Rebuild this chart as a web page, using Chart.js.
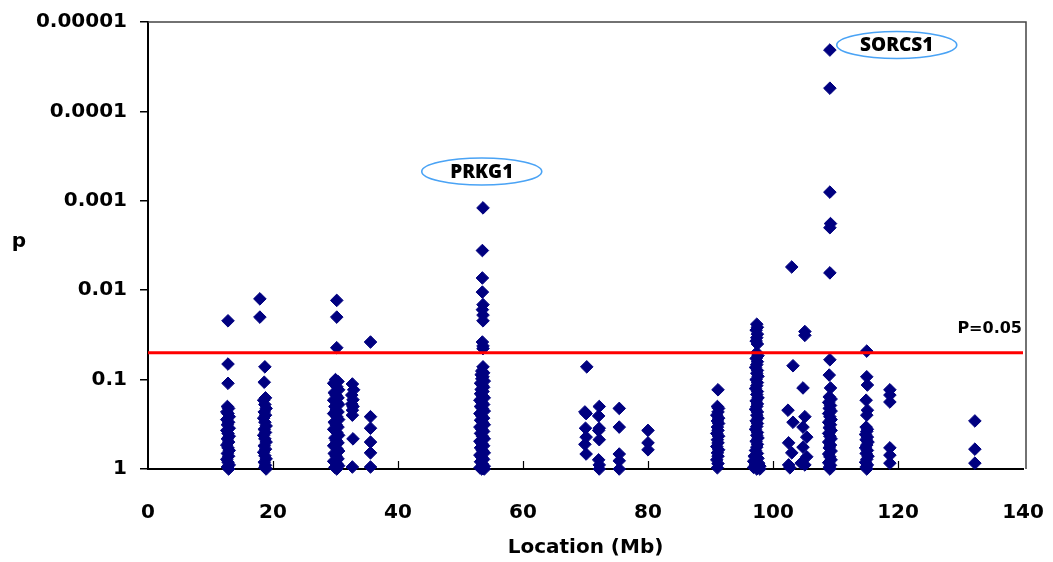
<!DOCTYPE html>
<html>
<head>
<meta charset="utf-8">
<script src="https://cdn.jsdelivr.net/npm/chart.js@4/dist/chart.umd.min.js"></script>
<style>
    html, body { margin: 0; padding: 0; background: #fff; }
    #wrap { width: 1053px; height: 562px; }
</style>
</head>
<body>
<div id="wrap"><canvas id="chart" width="1053" height="562"></canvas></div>
<script>
// --- Data: [location (Mb), p] per locus ---

const region13 = [
    [12.8, 0.022], [12.8, 0.067], [12.8, 0.11],
    [12.7, 0.20], [12.9, 0.21], [12.6, 0.23], [12.8, 0.24], [13.0, 0.26], [12.6, 0.28],
    [12.9, 0.30], [12.7, 0.32], [13.0, 0.35], [12.6, 0.37], [12.8, 0.40], [13.0, 0.43],
    [12.7, 0.46], [12.9, 0.50], [12.6, 0.54], [12.8, 0.58], [13.0, 0.62], [12.7, 0.67],
    [12.9, 0.72], [12.6, 0.78], [12.8, 0.84], [13.0, 0.90], [12.7, 0.95], [12.9, 1.0]
];
const region18 = [
    [17.9, 0.0125], [17.9, 0.020],
    [18.7, 0.072], [18.6, 0.107], [18.8, 0.16], [18.5, 0.17], [18.7, 0.19], [18.9, 0.21],
    [18.6, 0.23], [18.8, 0.25], [18.5, 0.27], [18.7, 0.30], [18.9, 0.33], [18.6, 0.36],
    [18.8, 0.39], [18.5, 0.42], [18.7, 0.46], [18.9, 0.50], [18.6, 0.55], [18.8, 0.60],
    [18.5, 0.65], [18.7, 0.71], [18.9, 0.77], [18.6, 0.84], [18.8, 0.91], [18.7, 0.96], [18.9, 1.0]
];
const region30 = [
    [30.2, 0.013], [30.2, 0.020], [30.2, 0.044],
    [30.0, 0.10], [30.4, 0.105], [29.7, 0.11], [30.2, 0.12], [30.5, 0.13], [29.8, 0.14],
    [30.1, 0.15], [30.4, 0.16], [29.7, 0.17], [30.2, 0.18], [30.5, 0.19], [29.9, 0.20],
    [30.1, 0.22], [30.4, 0.23], [29.7, 0.24], [30.2, 0.26], [30.5, 0.28], [29.8, 0.30],
    [30.1, 0.32], [30.4, 0.34], [29.7, 0.36], [30.2, 0.39], [30.5, 0.42], [29.9, 0.45],
    [30.1, 0.48], [30.4, 0.51], [29.7, 0.55], [30.2, 0.59], [30.5, 0.63], [29.8, 0.67],
    [30.1, 0.72], [30.4, 0.77], [29.7, 0.82], [30.2, 0.87], [30.5, 0.92], [29.9, 0.96], [30.2, 1.0]
];
const region33 = [
    [32.7, 0.112], [32.9, 0.13], [32.6, 0.149], [32.8, 0.168], [32.6, 0.188], [32.8, 0.20],
    [32.7, 0.22], [32.7, 0.25], [32.8, 0.46], [32.7, 0.95]
];
const region36 = [
    [35.6, 0.038], [35.6, 0.26], [35.6, 0.35], [35.6, 0.50], [35.6, 0.66], [35.6, 0.95]
];
const region53 = [
    [53.6, 0.0012], [53.5, 0.0036], [53.5, 0.0073], [53.5, 0.0105], [53.6, 0.0145],
    [53.5, 0.0165], [53.6, 0.019], [53.6, 0.022], [53.5, 0.038], [53.6, 0.042], [53.6, 0.045],
    [53.6, 0.072],
    [53.4, 0.08], [53.7, 0.084], [53.3, 0.088], [53.6, 0.093], [53.4, 0.098], [53.8, 0.104],
    [53.2, 0.11], [53.5, 0.116], [53.7, 0.122], [53.3, 0.129], [53.6, 0.136], [53.2, 0.144],
    [53.5, 0.152], [53.8, 0.16], [53.1, 0.17], [53.4, 0.18], [53.7, 0.19], [53.2, 0.20],
    [53.5, 0.21], [53.8, 0.225], [53.1, 0.24], [53.4, 0.255], [53.7, 0.27], [53.2, 0.285],
    [53.5, 0.30], [53.8, 0.32], [53.1, 0.34], [53.4, 0.36], [53.7, 0.38], [53.2, 0.40],
    [53.5, 0.43], [53.8, 0.46], [53.1, 0.49], [53.4, 0.52], [53.7, 0.55], [53.2, 0.58],
    [53.5, 0.62], [53.8, 0.66], [53.1, 0.70], [53.4, 0.74], [53.7, 0.78], [53.2, 0.83],
    [53.5, 0.88], [53.8, 0.93], [53.1, 0.97], [53.4, 1.0], [53.8, 1.0]
];
const region70 = [
    [70.2, 0.072], [69.9, 0.23], [70.1, 0.24], [70.0, 0.35], [70.1, 0.44], [69.9, 0.53], [70.1, 0.68]
];
const region72 = [
    [72.2, 0.20], [72.1, 0.255], [72.2, 0.35], [72.1, 0.37], [72.2, 0.47], [72.1, 0.79],
    [72.2, 0.90], [72.2, 1.0]
];
const region75 = [[75.4, 0.21], [75.4, 0.34], [75.4, 0.68], [75.4, 0.81], [75.4, 1.0]];
const region80 = [[80.0, 0.37], [80.0, 0.51], [80.0, 0.61]];
const region91 = [
    [91.2, 0.13], [91.1, 0.20], [91.3, 0.21], [91.2, 0.23], [91.0, 0.25], [91.3, 0.27],
    [91.1, 0.29], [91.3, 0.31], [91.1, 0.34], [91.2, 0.37], [91.0, 0.40], [91.3, 0.43],
    [91.1, 0.47], [91.2, 0.51], [91.0, 0.56], [91.3, 0.61], [91.1, 0.66], [91.2, 0.72],
    [91.0, 0.79], [91.2, 0.87], [91.1, 0.97]
];
const region97 = [
    [97.4, 0.024], [97.5, 0.026], [97.3, 0.028], [97.5, 0.031], [97.4, 0.034], [97.3, 0.037],
    [97.5, 0.040], [97.4, 0.05], [97.6, 0.054], [97.3, 0.058], [97.5, 0.063], [97.4, 0.068],
    [97.2, 0.073], [97.5, 0.079], [97.4, 0.085], [97.6, 0.092], [97.3, 0.10], [97.5, 0.108],
    [97.4, 0.117], [97.2, 0.126], [97.5, 0.136], [97.4, 0.147], [97.6, 0.16], [97.3, 0.173],
    [97.5, 0.187], [97.4, 0.20], [97.2, 0.215], [97.5, 0.23], [97.4, 0.25], [97.6, 0.27],
    [97.3, 0.29], [97.5, 0.31], [97.4, 0.335], [97.2, 0.36], [97.5, 0.39], [97.4, 0.42],
    [97.6, 0.45], [97.3, 0.49], [97.5, 0.53], [97.4, 0.57], [97.2, 0.62], [97.5, 0.67],
    [97.0, 0.72], [97.6, 0.76], [96.9, 0.82], [97.7, 0.86], [97.2, 0.90], [97.9, 0.93],
    [97.4, 1.0], [96.9, 0.96], [97.9, 1.0]
];
const region103 = [
    [103.0, 0.0055], [103.2, 0.07], [102.4, 0.22], [103.2, 0.30], [102.5, 0.51],
    [103.0, 0.66], [102.5, 0.90], [102.7, 0.97]
];
const region105 = [
    [105.1, 0.029], [105.1, 0.032], [104.8, 0.124], [105.1, 0.26], [104.8, 0.34],
    [105.4, 0.44], [104.8, 0.57], [105.4, 0.73], [105.1, 0.90], [104.5, 0.86]
];
const region109 = [
    [109.1, 0.0000206], [109.1, 0.000055], [109.1, 0.0008], [109.2, 0.0018], [109.1, 0.002],
    [109.1, 0.0064], [109.1, 0.06], [109.0, 0.089], [109.2, 0.124], [109.0, 0.156],
    [109.3, 0.165], [108.9, 0.18], [109.2, 0.195], [109.0, 0.21], [109.3, 0.225], [108.9, 0.24],
    [109.1, 0.26], [109.3, 0.28], [108.9, 0.30], [109.2, 0.32], [109.0, 0.345], [109.3, 0.37],
    [108.9, 0.40], [109.1, 0.43], [109.3, 0.46], [108.9, 0.50], [109.2, 0.54], [109.0, 0.58],
    [109.3, 0.63], [108.9, 0.68], [109.1, 0.73], [109.3, 0.79], [108.9, 0.85], [109.2, 0.91],
    [109.0, 0.96], [109.1, 1.0]
];
const region115 = [
    [115.0, 0.048], [115.0, 0.093], [115.1, 0.115], [114.9, 0.17], [115.1, 0.22], [115.0, 0.25],
    [114.9, 0.34], [115.1, 0.36], [115.0, 0.38], [114.8, 0.41], [115.1, 0.44], [114.9, 0.47],
    [115.2, 0.50], [115.0, 0.54], [114.8, 0.58], [115.1, 0.62], [114.9, 0.67], [115.2, 0.72],
    [115.0, 0.78], [114.8, 0.84], [115.1, 0.90], [114.9, 0.95], [115.0, 1.0]
];
const region119 = [[118.7, 0.13], [118.7, 0.149], [118.7, 0.178], [118.7, 0.58], [118.7, 0.70], [118.7, 0.86]];
const region132 = [[132.3, 0.29], [132.3, 0.60], [132.3, 0.86]];

const regions = [
    region13, region18, region30, region33, region36, region53, region70, region72,
    region75, region80, region91, region97, region103, region105, region109,
    region115, region119, region132
];

// Significance threshold
const thresholdP     = 0.05;
const thresholdLabel = "P=0.05";

// Gene annotations (label, Mb, p of label centre)
const geneLabels = ["PRKG1", "SORCS1"];
const geneMb     = [53.4, 119.8];
const geneP      = [0.00047, 0.0000181];

// Axis ticks
const xTickValues = [0, 20, 40, 60, 80, 100, 120, 140];
const yTickValues = [0.00001, 0.0001, 0.001, 0.01, 0.1, 1];
const yTickLabels = ["0.00001", "0.0001", "0.001", "0.01", "0.1", "1"];

const points = regions.flat().map(([mb, p]) => ({ x: mb, y: p }));

const FONT = "'DejaVu Sans', sans-serif";

// --- Extra drawing: frame, inward x ticks, labels, ellipses ---

const decor = {
    id: "decor",
    beforeDatasetsDraw(chart) {
        const { ctx, chartArea: a, scales: { x } } = chart;
        ctx.save();
        ctx.strokeStyle = "#444";
        ctx.lineWidth = 1.5;
        ctx.beginPath();
        ctx.moveTo(a.left, a.top);
        ctx.lineTo(a.right + 3, a.top);
        ctx.lineTo(a.right + 3, a.bottom);
        ctx.stroke();

        ctx.strokeStyle = "#000";
        ctx.lineWidth = 1.2;
        xTickValues.slice(1, -1).forEach(v => {
            const px = Math.round(x.getPixelForValue(v)) + 0.5;
            ctx.beginPath();
            ctx.moveTo(px, a.bottom);
            ctx.lineTo(px, a.bottom - 8);
            ctx.stroke();
        });
        ctx.restore();
    },
    afterDraw(chart) {
        const { ctx, chartArea: a, scales: { x, y } } = chart;
        ctx.save();

        // y axis title, unrotated
        ctx.fillStyle = "#000";
        ctx.font = `bold 20px ${FONT}`;
        ctx.textAlign = "center";
        ctx.textBaseline = "alphabetic";
        ctx.fillText("p", 19, 247);

        // threshold label
        ctx.font = `bold 16px ${FONT}`;
        ctx.textAlign = "right";
        ctx.textBaseline = "middle";
        ctx.fillText(thresholdLabel, a.right - 1, y.getPixelForValue(thresholdP) - 24);

        // gene ellipses
        geneLabels.forEach((label, i) => {
            const cx = x.getPixelForValue(geneMb[i]);
            const cy = y.getPixelForValue(geneP[i]);
            ctx.beginPath();
            ctx.ellipse(cx, cy, 60, 13.5, 0, 0, Math.PI * 2);
            ctx.fillStyle = "#fff";
            ctx.fill();
            ctx.strokeStyle = "#4aa3f5";
            ctx.lineWidth = 1.6;
            ctx.stroke();
            ctx.fillStyle = "#000";
            ctx.font = "800 19px 'Open Sans', sans-serif";
            ctx.textAlign = "center";
            ctx.textBaseline = "middle";
            ctx.fillText(label, cx, cy + 1);
        });
        ctx.restore();
    }
};

// --- Chart ---

new Chart(document.getElementById("chart").getContext("2d"), {
    type: "scatter",
    data: {
        datasets: [
            {
                type: "line",
                data: [{ x: 0, y: thresholdP }, { x: 140, y: thresholdP }],
                borderColor: "#ff0000",
                borderWidth: 3,
                pointRadius: 0,
                order: 0
            },
            {
                data: points,
                pointStyle: "rectRot",
                pointRadius: 6.3,
                backgroundColor: "#000080",
                borderColor: "#000080",
                borderWidth: 1,
                clip: false,
                order: 1
            }
        ]
    },
    options: {
        responsive: false,
        animation: false,
        layout: { padding: { top: 22, right: 30, bottom: 0, left: 0 } },
        plugins: { legend: { display: false }, tooltip: { enabled: false } },
        scales: {
            x: {
                type: "linear",
                min: 0,
                max: 140,
                afterBuildTicks: s => { s.ticks = xTickValues.map(v => ({ value: v })); },
                afterFit: s => { s.height = 93; s.paddingLeft = 0; s.paddingRight = 0; },
                grid: { display: false, drawTicks: false },
                border: { display: true, color: "#000", width: 2 },
                ticks: {
                    padding: 32,
                    color: "#000",
                    font: { family: FONT, size: 20, weight: "bold" }
                },
                title: {
                    display: true,
                    text: "Location (Mb)",
                    color: "#000",
                    padding: { top: 2, bottom: 2 },
                    font: { family: FONT, size: 20, weight: "bold" }
                }
            },
            y: {
                type: "logarithmic",
                min: 0.00001,
                max: 1,
                reverse: true,
                afterBuildTicks: s => { s.ticks = yTickValues.map(v => ({ value: v })); },
                afterFit: s => { s.width = 148; s.paddingTop = 0; s.paddingBottom = 0; },
                grid: {
                    drawOnChartArea: false,
                    drawTicks: true,
                    tickLength: 8,
                    color: "#000",
                    lineWidth: 1.5
                },
                border: { display: true, color: "#000", width: 2 },
                ticks: {
                    padding: 13,
                    color: "#000",
                    font: { family: FONT, size: 20, weight: "bold" },
                    callback: (value, index) => yTickLabels[index]
                }
            }
        }
    },
    plugins: [decor]
});
</script>
</body>
</html>
